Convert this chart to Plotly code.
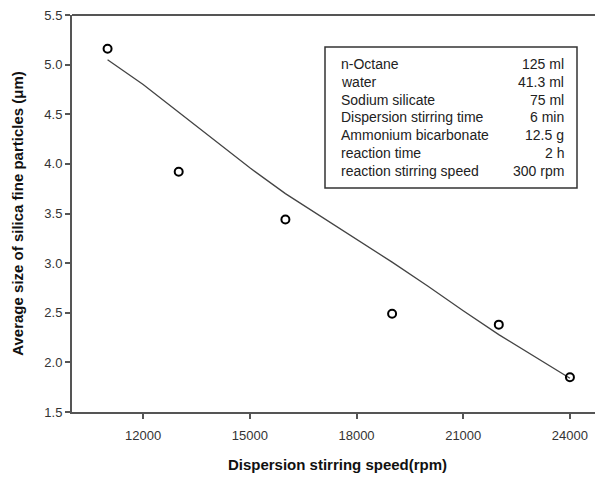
import plotly.graph_objects as go

# Measured data points
speed = [11000, 13000, 16000, 19000, 22000, 24000]
size_um = [5.16, 3.92, 3.44, 2.49, 2.38, 1.85]

# Fitted trend curve
fit_speed = [11000, 12000, 13000, 14000, 15000, 16000, 17000, 18000,
             19000, 20000, 21000, 22000, 23000, 24000]
fit_size = [5.05, 4.80, 4.52, 4.24, 3.96, 3.70, 3.47, 3.24,
            3.01, 2.77, 2.52, 2.28, 2.06, 1.84]

# Inset condition table
cond_names = ["n-Octane", "water", "Sodium silicate", "Dispersion stirring time",
              "Ammonium bicarbonate", "reaction time", "reaction stirring speed"]
cond_values = ["125 ml", "41.3 ml", "75 ml", "6 min", "12.5 g", "2 h", "300 rpm"]

x_ticks = [12000, 15000, 18000, 21000, 24000]
y_ticks = [1.5, 2.0, 2.5, 3.0, 3.5, 4.0, 4.5, 5.0, 5.5]

# page body has an 8px default margin; compensate so the plot lands where the reference has it
OFF = 8
W, H = 603 - OFF, 481 - 2 * OFF
L, R, T = 72 - OFF, 0, 15 - OFF
B = H - (412 - OFF)
pw, ph = W - L - R, H - T - B

def px(x):  # window pixel -> paper
    return (x - OFF - L) / pw

def py(y):
    return (H - B - (y - OFF)) / ph

font_family = "Liberation Sans, Arial, sans-serif"

fig = go.Figure()
fig.add_trace(go.Scatter(x=fit_speed, y=fit_size, mode="lines",
                         line=dict(color="#444444", width=1.3),
                         showlegend=False, hoverinfo="skip"))
fig.add_trace(go.Scatter(x=speed, y=size_um, mode="markers",
                         marker=dict(symbol="circle-open", size=8, color="black",
                                     line=dict(width=2, color="black")),
                         showlegend=False))

annotations = []
row_y0 = 64.0
row_step = 17.8
for i, (n, v) in enumerate(zip(cond_names, cond_values)):
    yy = py(row_y0 + i * row_step)
    annotations.append(dict(xref="paper", yref="paper", x=px(339), y=yy, text=n,
                            showarrow=False, xanchor="left", yanchor="middle",
                            font=dict(family=font_family, size=14, color="#222222")))
    annotations.append(dict(xref="paper", yref="paper", x=px(566), y=yy, text=v,
                            showarrow=False, xanchor="right", yanchor="middle",
                            font=dict(family=font_family, size=14, color="#222222")))

x_end = 10000 + 3000 * (W - L - R) / 106.7

fig.update_layout(
    width=W, height=H,
    margin=dict(l=L, r=R, t=T, b=B),
    paper_bgcolor="white", plot_bgcolor="white",
    font=dict(family=font_family, color="#333333"),
    annotations=annotations,
    shapes=[dict(type="rect", xref="paper", yref="paper",
                 x0=px(325), x1=px(577), y0=py(188), y1=py(47),
                 line=dict(color="#333333", width=1.5)),
            dict(type="line", xref="paper", yref="paper", x0=0, x1=1, y0=1, y1=1,
                 line=dict(color="#555555", width=2))],
    xaxis=dict(range=[10000, x_end], tickvals=x_ticks,
               ticktext=[str(t) for t in x_ticks],
               showgrid=False, zeroline=False, automargin=False,
               showline=True, linecolor="#555555", linewidth=2, mirror=False,
               ticks="outside", ticklen=5, tickwidth=1.5, tickcolor="#555555",
               ticklabelstandoff=5, ticklabeloverflow="allow",
               tickfont=dict(size=13, color="#333333"),
               title=dict(text="<b>Dispersion stirring speed(rpm)</b>",
                          font=dict(size=15, color="#111111"), standoff=24)),
    yaxis=dict(range=[1.5, 5.5], tickvals=y_ticks,
               ticktext=["%.1f" % t for t in y_ticks],
               showgrid=False, zeroline=False, automargin=False,
               showline=True, linecolor="#555555", linewidth=2, mirror=False,
               ticks="outside", ticklen=5, tickwidth=1.5, tickcolor="#555555",
               ticklabeloverflow="allow",
               tickfont=dict(size=13, color="#333333"),
               title=dict(text="<b>Average size of silica fine particles (\u03bcm)</b>",
                          font=dict(size=15, color="#111111"), standoff=17)),
)

fig.write_html("out.html")
